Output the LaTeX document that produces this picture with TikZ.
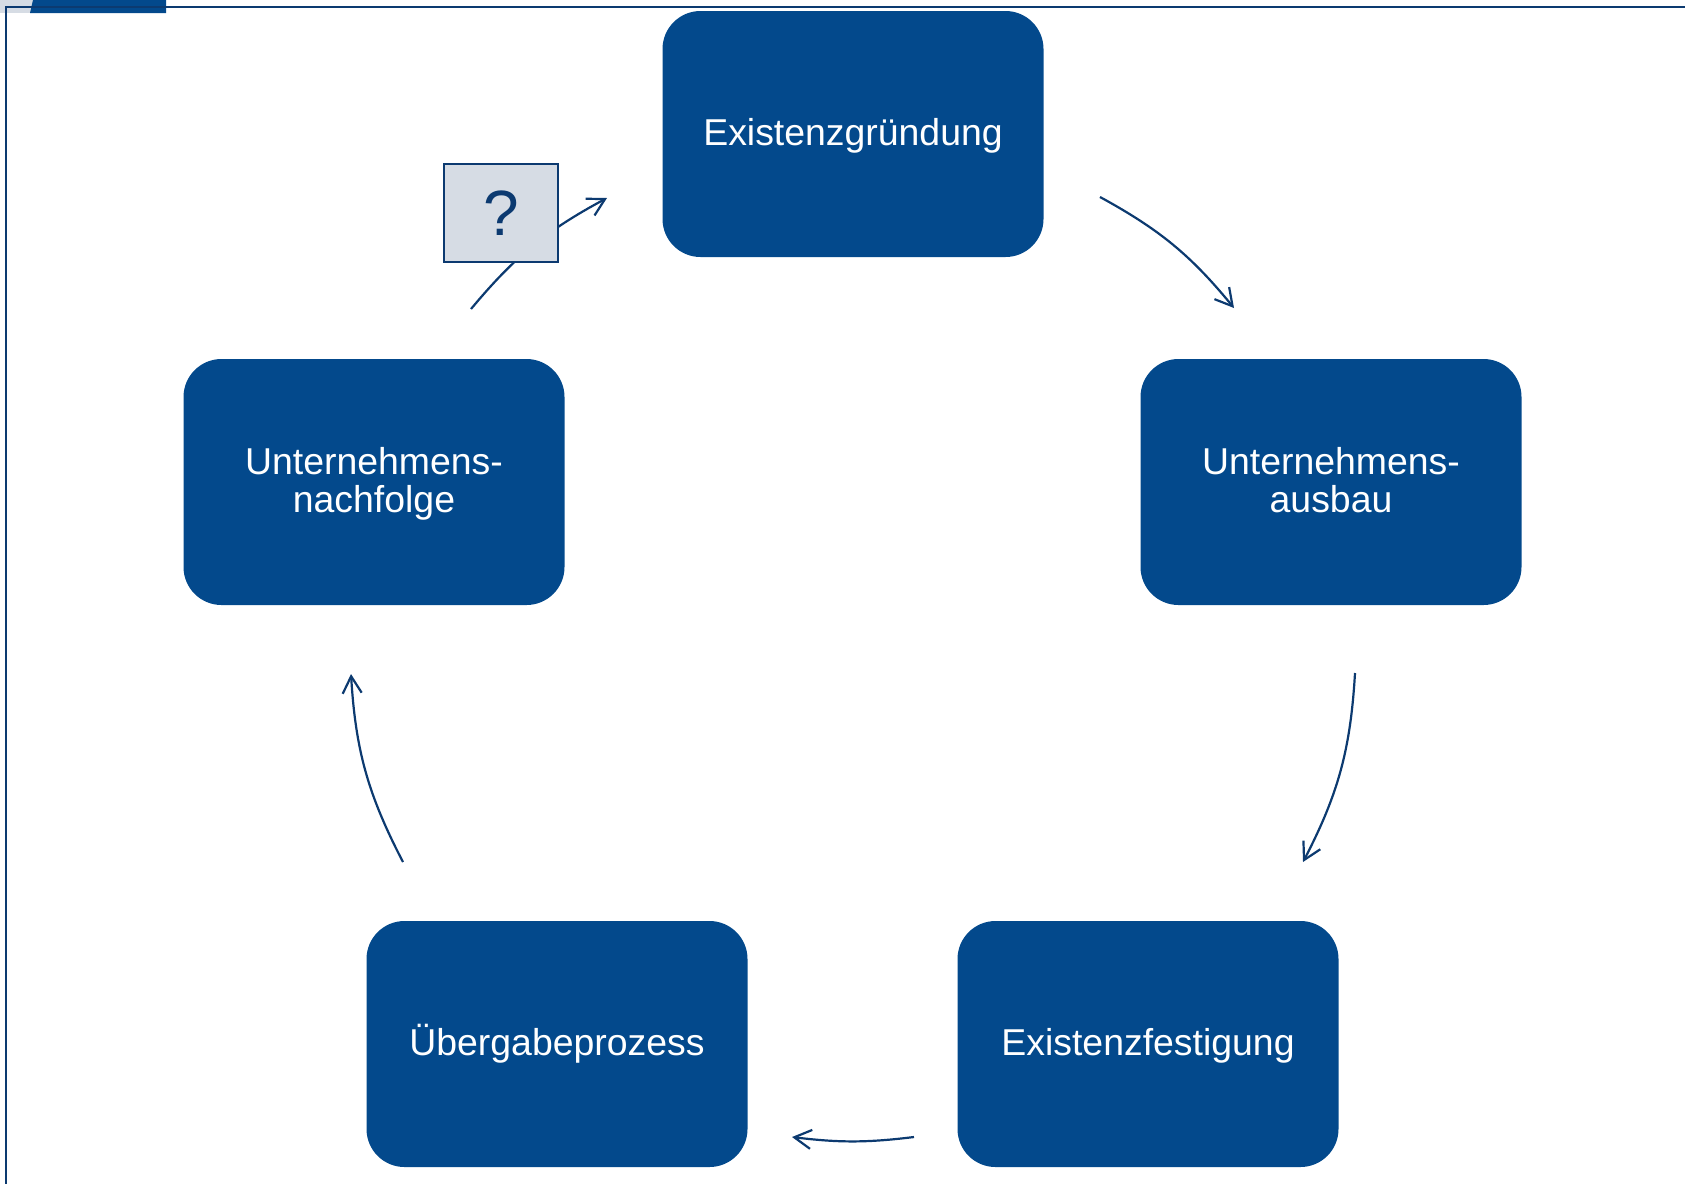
\documentclass[tikz,border=0pt]{standalone}
\usepackage{fontspec}
\setmainfont{Liberation Sans}
\usetikzlibrary{arrows.meta,calc}
\definecolor{boxblue}{RGB}{3,73,140}
\definecolor{navy}{RGB}{12,58,112}
\definecolor{paleblue}{RGB}{214,220,228}
\newcommand\phstrut{\rule[-4pt]{0pt}{19.4pt}}

\begin{document}
\begin{tikzpicture}[x=0.5pt,y=-0.5pt,
    phase/.style={fill=boxblue, rounded corners=19pt, minimum width=190.5pt,
      minimum height=123pt, inner sep=0pt, text=white, align=center,
      font=\fontsize{18.7}{19.4}\selectfont},
    cyc/.style={navy, line width=1.1pt, -{Straight Barb[length=8.5pt,width=9.5pt]}},
    frameline/.style={navy, line width=1.1pt}]
  \useasboundingbox (0,0) rectangle (1685,1184);
  \def\phases{
    \node [phase] (gruendung) at (853,134) {\phstrut Existenzgründung};
    \node [phase] (ausbau) at (1331,482) {\phstrut Unternehmens-\\\phstrut ausbau};
    \node [phase] (festigung) at (1148,1044) {\phstrut Existenzfestigung};
    \node [phase] (uebergabe) at (557,1044) {\phstrut Übergabeprozess};
    \node [phase] (nachfolge) at (374,482) {\phstrut Unternehmens-\\\phstrut nachfolge};
  }
  \def\arrowEnds{
    \coordinate (s1) at (1100,197);  \coordinate (e1) at (1234,308);
    \coordinate (s2) at (1355,673);  \coordinate (e2) at (1303,862);
    \coordinate (s3) at (914,1137);  \coordinate (e3) at (792,1137);
    \coordinate (s4) at (403,862);   \coordinate (e4) at (351,674);
    \coordinate (s5) at (471,309);   \coordinate (e5) at (607,198);
  }
  \def\showArrows{
    \foreach \i/\b in {1/11,2/12,3/7,4/12,5/11}
      \draw [cyc] (s\i) to [bend left=\b] (e\i);
  }
  % Top band and frame
  \fill [paleblue] (0,0) rectangle (33,13);
  \fill [boxblue] (33,0) -- (166,0) -- (166,13) -- (30,13) -- cycle;
  \draw [frameline] (1685,7) -- (6,7) -- (6,1184);
  \phases
  \arrowEnds
  \showArrows
  % Box on the last arrow
  \node [draw=navy, fill=paleblue, line width=1pt, minimum width=57pt,
    minimum height=49pt, text=navy, font=\fontsize{32}{32}\selectfont]
    (frage) at (501,213) {?};
\end{tikzpicture}
\end{document}
